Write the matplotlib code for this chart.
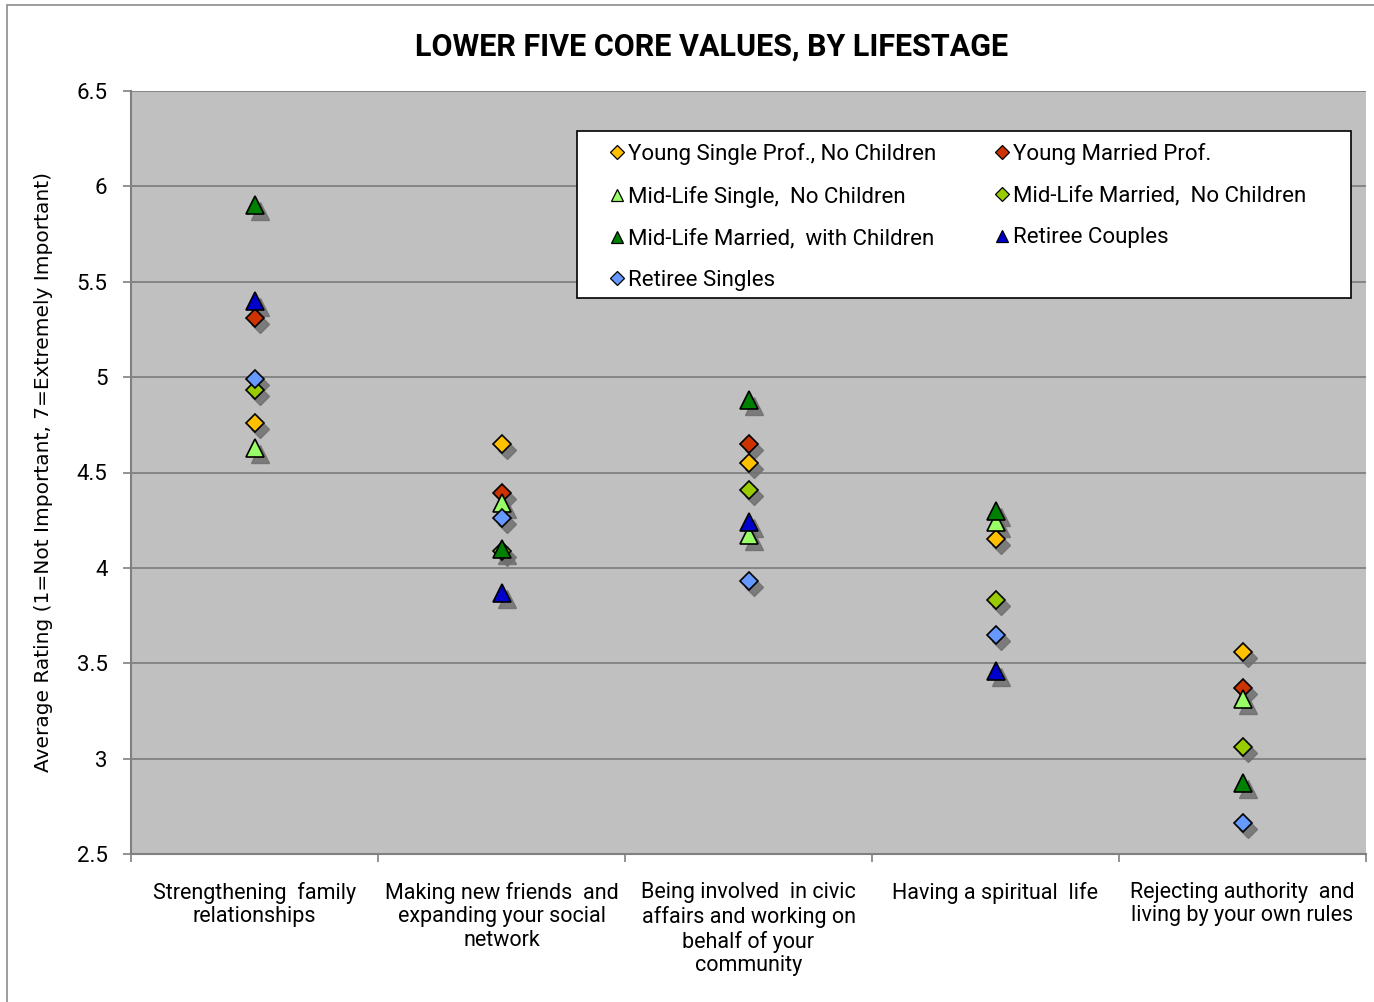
import matplotlib
matplotlib.use("Agg")
import matplotlib.pyplot as plt
import matplotlib.transforms as mtransforms
from matplotlib.patches import Rectangle
import numpy as np

# Core values (x categories)
categories = [
    "Strengthening  family\nrelationships",
    "Making new friends  and\nexpanding your social\nnetwork",
    "Being involved  in civic\naffairs and working on\nbehalf of your\ncommunity",
    "Having a spiritual  life",
    "Rejecting authority  and\nliving by your own rules",
]

# Lifestage series
series_names = [
    "Young Single Prof., No Children",
    "Young Married Prof.",
    "Mid-Life Single,  No Children",
    "Mid-Life Married,  No Children",
    "Mid-Life Married,  with Children",
    "Retiree Couples",
    "Retiree Singles",
]

young_single = [4.76, 4.65, 4.55, 4.15, 3.56]
young_married = [5.31, 4.39, 4.65, np.nan, 3.37]
midlife_single = [4.63, 4.34, 4.17, 4.24, 3.31]
midlife_married_nc = [4.93, 4.09, 4.41, 3.83, 3.06]
midlife_married_wc = [5.90, 4.10, 4.88, 4.30, 2.87]
retiree_couples = [5.40, 3.87, 4.24, 3.46, np.nan]
retiree_singles = [4.99, 4.26, 3.93, 3.65, 2.66]

series_values = [young_single, young_married, midlife_single, midlife_married_nc,
                 midlife_married_wc, retiree_couples, retiree_singles]
markers = ["D", "D", "^", "D", "^", "^", "D"]
colors = ["#FFC000", "#CC3300", "#99FF66", "#99CC00", "#008000", "#0000CC", "#6699FF"]

yticks = [2.5, 3, 3.5, 4, 4.5, 5, 5.5, 6, 6.5]
ytick_labels = ["2.5", "3", "3.5", "4", "4.5", "5", "5.5", "6", "6.5"]

W, H = 1374, 1002
fig = plt.figure(figsize=(W / 100, H / 100), dpi=100)
fig.patch.set_facecolor("white")

# outer chart-area frame
fig.patches.append(Rectangle((7 / W, -0.01), 1.1, 1 - 5 / H + 0.01, transform=fig.transFigure,
                             fill=False, edgecolor="#8c8c8c", linewidth=1.2))

L, R, T, B = 131, 1366, 91, 854
ax = fig.add_axes([L / W, 1 - B / H, (R - L) / W, (B - T) / H])
ax.set_facecolor("#C0C0C0")
ax.set_xlim(-0.5, 4.5)
ax.set_ylim(2.5, 6.5)

for s in ["top", "right"]:
    ax.spines[s].set_visible(False)
for s in ["left", "bottom"]:
    ax.spines[s].set_color("#808080")
    ax.spines[s].set_linewidth(1.5)

ax.set_yticks(yticks)
ax.set_yticklabels(ytick_labels)
ax.yaxis.grid(True, color="#808080", linewidth=1.3)
ax.set_axisbelow(True)
ax.tick_params(axis="y", direction="out", length=6, color="#808080", width=1.2,
               labelsize=16, pad=11)

x = np.arange(len(categories))
ax.set_xticks(x)
ax.set_xticklabels(categories, fontsize=15.5, fontfamily="Roboto", linespacing=1.17)
ax.tick_params(axis="x", which="major", length=0, pad=20)
ax.set_xticks(np.arange(-0.5, 4.6, 1.0), minor=True)
ax.tick_params(axis="x", which="minor", direction="out", length=6, color="#808080", width=1.2)
for lab in ax.get_yticklabels():
    lab.set_fontfamily("Roboto")

# drop shadows beneath markers
shadow_tr = mtransforms.offset_copy(ax.transData, fig=fig, x=5, y=-6, units="dots")
for vals, m in zip(series_values, markers):
    ms = 9 if m == "D" else 12.5
    ax.plot(x, vals, linestyle="none", marker=m, markersize=ms, color="#6f6f6f",
            markeredgecolor="#6f6f6f", alpha=0.85, transform=shadow_tr, zorder=2)

for name, vals, m, c in zip(series_names, series_values, markers, colors):
    ms = 9 if m == "D" else 12.5
    ax.plot(x, vals, linestyle="none", marker=m, markersize=ms, markerfacecolor=c,
            markeredgecolor="black", markeredgewidth=1.2, label=name, zorder=3)

# legend: white boxed panel with two columns of entries
lx0, lx1, ly0, ly1 = 577, 1351, 131, 298
fig.patches.append(Rectangle((lx0 / W, 1 - ly1 / H), (lx1 - lx0) / W, (ly1 - ly0) / H,
                             transform=fig.transFigure, facecolor="white",
                             edgecolor="black", linewidth=1.2, zorder=5))
leg_handles = []
for m, c in zip(markers, colors):
    leg_handles.append(plt.Line2D([], [], linestyle="none", marker=m,
                                  markersize=7 if m == "D" else 9,
                                  markerfacecolor=c, markeredgecolor="black",
                                  markeredgewidth=0.9))
order = [0, 2, 4, 6, 1, 3, 5]
leg = fig.legend([leg_handles[i] for i in order], [series_names[i] for i in order],
                 ncol=2, loc="upper left", bbox_to_anchor=(610 / W, 1 - 143 / H),
                 frameon=False, borderpad=0, borderaxespad=0, handlelength=0.6,
                 handletextpad=0.2, labelspacing=0.93, columnspacing=2.68,
                 prop={"family": "Roboto", "size": 16})
leg.set_zorder(6)

ax.set_ylabel("Average Rating (1=Not Important, 7=Extremely Important)",
              fontsize=14.5, family=["Liberation Sans Narrow", "DejaVu Sans"])
ax.yaxis.set_label_coords((53 - L) / (R - L), 0.5)

fig.text(712 / W, 1 - 47 / H, "LOWER FIVE CORE VALUES, BY LIFESTAGE",
         ha="center", va="center", fontsize=22, fontweight="bold",
         family=["Roboto", "DejaVu Sans"])

fig.savefig("out.png", dpi=100)
